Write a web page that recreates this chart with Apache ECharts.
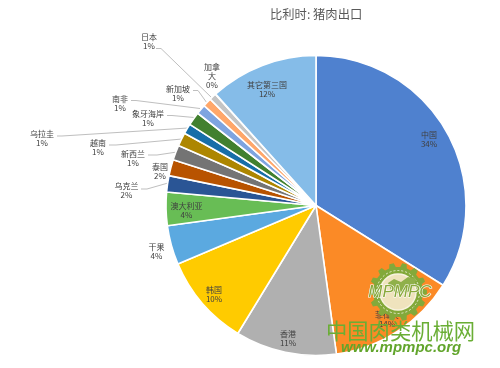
<!DOCTYPE html>
<html>
<head>
<meta charset="utf-8">
<style>html,body{margin:0;padding:0;background:#fff}#chartWrap{width:500px;height:368px}</style>
<script src="https://cdn.jsdelivr.net/npm/echarts@6/dist/echarts.min.js"></script>
</head>
<body>
<div id="chartWrap"></div>
<script>
const titleText = '比利时: 猪肉出口';
const categories = ['中国', '菲律宾', '香港', '韩国', '干果', '澳大利亚', '乌克兰', '泰国', '新西兰', '越南', '乌拉圭', '象牙海岸', '南非', '新加坡', '日本', '加拿\n大', '其它第三国'];
const shares = [33.9, 13.9, 10.9, 9.9, 4.2, 3.6, 1.75, 1.75, 1.6, 1.45, 1.1, 1.45, 1.05, 0.95, 0.75, 0.05, 11.65];
const percentLabels = ['34%', '14%', '11%', '10%', '4%', '4%', '2%', '2%', '1%', '1%', '1%', '1%', '1%', '1%', '1%', '0%', '12%'];
const colors = ['#4f81cf', '#fb8a26', '#b0b0b0', '#ffcb00', '#5ba9e0', '#68bd55', '#2a5595', '#b85300', '#747474', '#ad8600', '#176ea8', '#42802f', '#7ea4e0', '#ffa76a', '#c4c4c4', '#ffffff', '#85bce8'];

// label centre for each slice
const labelCenters = [
    [429, 139], [387, 319], [288, 338.5], [214, 294], [156.5, 251], [186.5, 210],
    [126.5, 190.5], [160, 171.5], [133, 158], [98, 147], [42, 138], [148, 118],
    [120, 103.5], [178, 93], [149, 41], [212, 75.5], [267, 89.5]
];
// leader lines, only where the chart has one
const leaderLines = {
    6: [[141, 189], [147, 189], [168, 183]],
    8: [[148, 155], [157, 155], [177, 152]],
    9: [[109, 145], [116, 145], [182, 139]],
    10: [[57, 136], [62, 136], [188, 128]],
    11: [[167, 115.5], [172, 115.5], [194, 117.5]],
    12: [[131, 100.5], [136, 100.5], [200, 108.5]],
    13: [[193, 90.5], [198, 90.5], [207, 103]],
    14: [[156, 48.5], [161, 48.5], [212, 98]]
};
const insideIndex = [0, 1, 2, 3, 5, 16];

// gear outline for the watermark logo
function gearPoints(cx, cy, inner, outer, teeth) {
    const pts = [];
    for (let i = 0; i < teeth; i++) {
        const a = i / teeth * Math.PI * 2;
        const w = Math.PI / teeth;
        [[-0.6, inner], [-0.35, outer], [0.35, outer], [0.6, inner]].forEach(function (p) {
            pts.push([cx + p[1] * Math.cos(a + p[0] * w), cy + p[1] * Math.sin(a + p[0] * w)]);
        });
    }
    return pts;
}

const myChart = echarts.init(document.getElementById('chartWrap'));

myChart.setOption({
    animation: false,
    backgroundColor: '#fff',
    title: {
        text: titleText,
        left: 270,
        top: 8,
        padding: 0,
        textStyle: {fontFamily: 'Noto Sans CJK SC', fontSize: 12.3, fontWeight: 'normal', color: '#595959'}
    },
    series: [{
        type: 'pie',
        center: [316, 205.5],
        radius: [0, 150],
        startAngle: 90,
        clockwise: true,
        sort: null,
        minShowLabelAngle: 0,
        itemStyle: {borderColor: '#fff', borderWidth: 1.6},
        data: categories.map(function (name, i) {
            const inside = insideIndex.indexOf(i) >= 0;
            return {
                name: name,
                value: shares[i],
                itemStyle: {color: colors[i]},
                label: {position: inside ? 'inside' : 'outside'},
                labelLine: {show: !!leaderLines[i]}
            };
        }),
        label: {
            formatter: function (p) {
                return p.name + '\n' + percentLabels[p.dataIndex];
            },
            fontFamily: 'Noto Sans CJK SC',
            fontSize: 8,
            lineHeight: 9,
            color: '#404040',
            align: 'center',
            verticalAlign: 'middle'
        },
        labelLine: {lineStyle: {color: '#bfbfbf', width: 1}, smooth: false},
        labelLayout: function (params) {
            const c = labelCenters[params.dataIndex];
            const res = {x: c[0], y: c[1], align: 'center', verticalAlign: 'middle'};
            if (leaderLines[params.dataIndex]) {
                res.labelLinePoints = leaderLines[params.dataIndex];
            }
            return res;
        },
        z: 2
    }],
    graphic: [
        // watermark
        {
            type: 'group',
            silent: true,
            z: 100,
            children: [
                {type: 'polygon', z: 100, shape: {points: gearPoints(398, 292, 25, 29, 14)}, style: {fill: '#83a93a'}},
                {type: 'circle', z: 101, shape: {cx: 398, cy: 292, r: 21.5}, style: {fill: 'none', stroke: '#e8ecd0', lineWidth: 1, lineDash: [2, 2]}},
                {type: 'circle', z: 101, shape: {cx: 398, cy: 292, r: 18}, style: {fill: '#efe3bd', stroke: '#f8f3df', lineWidth: 1.5}},
                {type: 'polygon', z: 102, shape: {points: [[388, 283], [394, 279], [401, 282], [408, 277], [416, 279], [414, 286], [408, 292], [398, 293], [391, 290]]}, style: {fill: '#8fb04a'}},
                {type: 'text', z: 103, style: {x: 400, y: 292, text: 'MPMPC', fill: '#8aa93c', stroke: '#ffffff', lineWidth: 1.2, fontSize: 17, fontStyle: 'italic', fontFamily: 'Liberation Sans', align: 'center', verticalAlign: 'middle'}},
                {type: 'text', z: 104, style: {x: 326, y: 331, text: '中国肉类机械网', fill: '#6aae35', fontSize: 21.3, fontFamily: 'Noto Sans CJK SC', verticalAlign: 'middle'}},
                {type: 'text', z: 104, style: {x: 341, y: 348, text: 'www.mpmpc.org', fill: '#62a52c', fontSize: 15, fontWeight: 'bold', fontStyle: 'italic', fontFamily: 'Liberation Sans', verticalAlign: 'middle'}}
            ]
        }
    ]
});
</script>
</body>
</html>
